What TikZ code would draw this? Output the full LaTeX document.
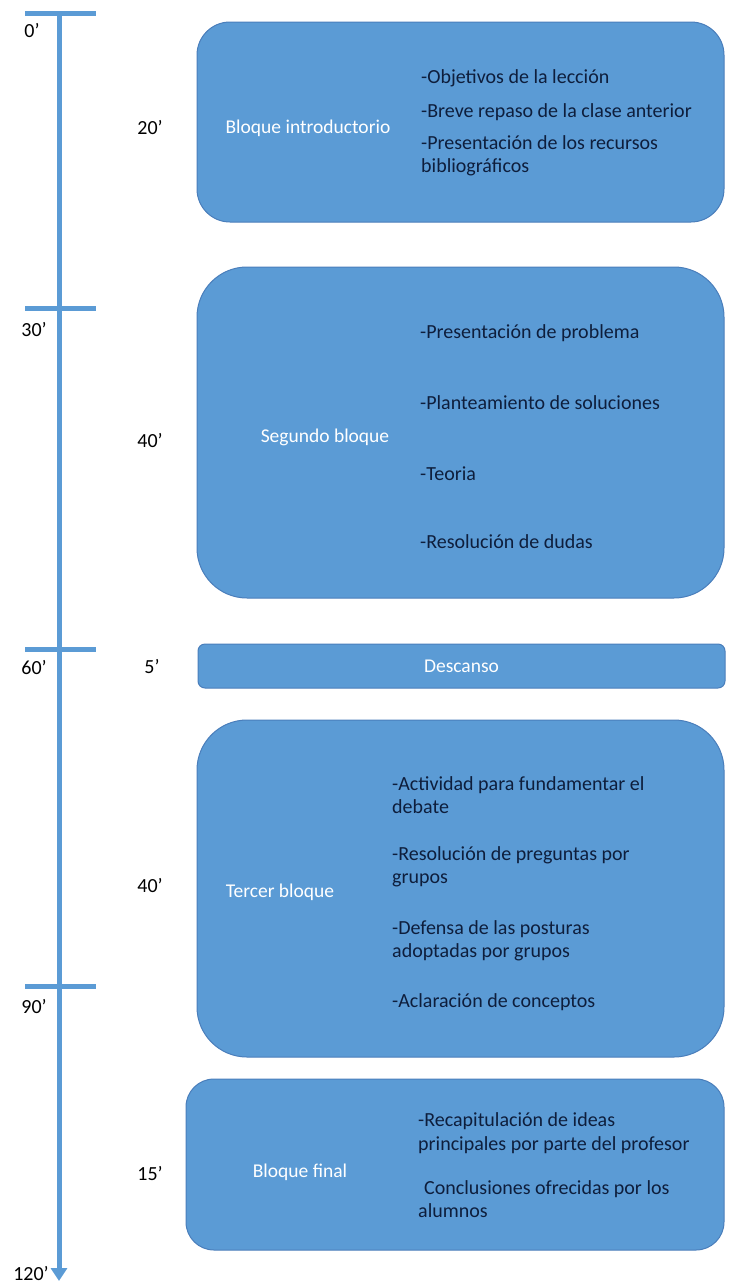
\documentclass[tikz,border=0pt]{standalone}
\usepackage{fontspec}
\setmainfont{Carlito}
\usetikzlibrary{arrows.meta}
\definecolor{blockblue}{HTML}{5B9BD5}
\definecolor{blockedge}{HTML}{4A7EBB}
\definecolor{itemink}{HTML}{0E1E3C}

\begin{document}
\begin{tikzpicture}[x=1pt,y=-1pt,
  blk/.style={draw=blockedge, fill=blockblue, line width=1pt, inner sep=0pt},
  lbl/.style={text=white, font=\fontsize{19.5}{23}\selectfont},
  item/.style={anchor=west, align=left, text=itemink, inner sep=0pt, font=\fontsize{20}{23.5}\selectfont},
  tiempo/.style={font=\fontsize{20}{24}\selectfont},
  hito/.style={draw=blockblue, line width=5pt}]
  \useasboundingbox (0,0) rectangle (732,1285);

  % eje de tiempo
  \node[tiempo] (l0) at (32,31) {0’};
  \node[tiempo] (l30) at (34,330) {30’};
  \node[tiempo] (l60) at (34,668) {60’};
  \node[tiempo] (l90) at (34,1007) {90’};
  \node[tiempo] (l120) at (31,1274) {120’};
  \coordinate (ejeA) at (59,13);
  \coordinate (ejeB) at (59,1281);
  \draw[blockblue, line width=5pt, -{Triangle[width=16pt,length=13pt]}] (ejeA) -- (ejeB);
  \foreach \y/\n in {13/t0, 308/t30, 649/t60, 986/t90} {
    \coordinate (\n a) at (25,\y);
    \coordinate (\n b) at (96,\y);
    \draw[hito] (\n a) -- (\n b);
  }

  % bloques
  \node[blk, rounded corners=33pt, minimum width=527pt, minimum height=200pt] (b1) at (460.5,122) {};
  \node[tiempo] (d1) at (150,128) {20’};
  \node[lbl] (n1) at (308,128) {Bloque introductorio};
  \node[item] (i11) at (421,78) {-Objetivos de la lección};
  \node[item] (i12) at (421,112) {-Breve repaso de la clase anterior};
  \node[item] (i13) at (421,156) {-Presentación de los recursos\\bibliográficos};

  \node[blk, rounded corners=50pt, minimum width=527pt, minimum height=331pt] (b2) at (460.5,432.5) {};
  \node[tiempo] (d2) at (150,441) {40’};
  \node[lbl] (n2) at (325,437) {Segundo bloque};
  \node[item] (i21) at (420,333) {-Presentación de problema};
  \node[item] (i22) at (420,403) {-Planteamiento de soluciones};
  \node[item] (i23) at (420,474) {-Teoria};
  \node[item] (i24) at (420,542) {-Resolución de dudas};

  \node[blk, rounded corners=7pt, minimum width=527pt, minimum height=44pt] (b3) at (461.5,666) {};
  \node[tiempo] (d3) at (152,667) {5’};
  \node[lbl] (n3) at (b3) {Descanso};

  \node[blk, rounded corners=50pt, minimum width=527pt, minimum height=337pt] (b4) at (460.5,888.5) {};
  \node[tiempo] (d4) at (150,886) {40’};
  \node[lbl] (n4) at (280,892) {Tercer bloque};
  \node[item] (i41) at (392,795) {-Actividad para fundamentar el\\debate};
  \node[item] (i42) at (392,867) {-Resolución de preguntas por\\grupos};
  \node[item] (i43) at (392,941) {-Defensa de las posturas\\adoptadas por grupos};
  \node[item] (i44) at (392,1002) {-Aclaración de conceptos};

  \node[blk, rounded corners=28pt, minimum width=538pt, minimum height=171pt] (b5) at (455,1164.5) {};
  \node[tiempo] (d5) at (150,1174) {15’};
  \node[lbl] (n5) at (300,1172) {Bloque final};
  \node[item] (i51) at (418,1133) {-Recapitulación de ideas\\principales por parte del profesor};
  \node[item] (i52) at (418,1199) {\hspace*{0.3em}Conclusiones ofrecidas por los\\alumnos};
\end{tikzpicture}
\end{document}
